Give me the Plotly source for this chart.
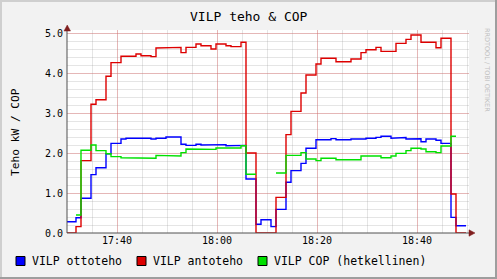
import datetime as dt
import plotly.graph_objects as go

# ---------------- data (one value per minute, step series) ----------------
start_time = "2024-01-01 17:29:48"
step_seconds = 60

ottoteho = [0.28, 0.28, 0.38, 0.87, 0.87, 1.46, 1.63, 1.63, 1.98, 2.24,
            2.24, 2.35, 2.37, 2.37, 2.37, 2.37, 2.37, 2.35, 2.37, 2.37,
            2.40, 2.40, 2.40, 2.22, 2.19, 2.19, 2.22, 2.20, 2.20, 2.20,
            2.21, 2.21, 2.18, 2.18, 2.18, 2.19, 1.35, 1.35, 0.22, 0.33,
            0.33, 0.16, 0.59, 0.59, 1.27, 1.56, 1.56, 1.74, 2.12, 2.12,
            2.33, 2.33, 2.33, 2.36, 2.33, 2.33, 2.33, 2.35, 2.35, 2.35,
            2.37, 2.37, 2.39, 2.42, 2.42, 2.37, 2.385, 2.385, 2.35, 2.355,
            2.355, 2.28, 2.35, 2.35, 2.32, 2.24, 2.24, 0.39, 0.18, 0.18]

antoteho = [0.0, 0.0, 0.16, 1.81, 1.81, 3.22, 3.33, 3.33, 3.92, 4.26,
            4.26, 4.42, 4.42, 4.42, 4.475, 4.43, 4.43, 4.41, 4.625, 4.625,
            4.625, 4.64, 4.64, 4.51, 4.64, 4.64, 4.725, 4.68, 4.68, 4.60,
            4.725, 4.725, 4.68, 4.66, 4.66, 4.77, 2.0, 2.0, 0.0, 0.0,
            0.0, 0.0, 0.89, 0.89, 2.46, 3.04, 3.04, 3.50, 3.95, 3.95,
            4.225, 4.37, 4.37, 4.37, 4.28, 4.28, 4.28, 4.35, 4.35, 4.51,
            4.58, 4.58, 4.64, 4.54, 4.54, 4.54, 4.74, 4.74, 4.84, 4.95,
            4.95, 4.77, 4.77, 4.77, 4.63, 4.87, 4.87, 0.975, 0.0, 0.0]

cop = [None, None, 0.45, 2.07, 2.07, 2.20, 2.06, 2.06, 1.98, 1.91,
       1.91, 1.88, 1.88, 1.88, 1.885, 1.87, 1.87, 1.87, 1.94, 1.94,
       1.925, 1.925, 1.925, 2.01, 2.10, 2.10, 2.10, 2.10, 2.10, 2.09,
       2.125, 2.125, 2.125, 2.125, 2.125, 2.18, 1.47, 1.47, None, None,
       None, None, 1.50, 1.50, 1.94, 1.94, 1.94, 2.01, 1.85, 1.85,
       1.81, 1.87, 1.87, 1.87, 1.83, 1.83, 1.83, 1.83, 1.83, 1.925,
       1.925, 1.925, 1.925, 1.88, 1.88, 1.925, 1.99, 1.99, 2.06, 2.12,
       2.12, 2.10, 2.03, 2.03, 2.01, 2.175, 2.175, 2.42, None, None]

series_names = ["VILP ottoteho", "VILP antoteho", "VILP COP (hetkellinen)"]
series_colors = ["#0000ff", "#dd0000", "#00e000"]
legend_colors = ["#0000ff", "#dd0000", "#00e000"]

x_tick_vals = ["2024-01-01 17:40", "2024-01-01 18:00", "2024-01-01 18:20", "2024-01-01 18:40"]
x_tick_text = ["17:40", "18:00", "18:20", "18:40"]
y_tick_vals = [0, 1, 2, 3, 4, 5]
y_tick_text = ["0.0", "1.0", "2.0", "3.0", "4.0", "5.0"]

title_text = "VILP teho & COP"
y_title = "Teho kW / COP"
watermark = "RRDTOOL / TOBI OETIKER"

# ---------------- helpers ----------------
t0 = dt.datetime.strptime(start_time, "%Y-%m-%d %H:%M:%S")
times = [t0 + dt.timedelta(seconds=step_seconds * i) for i in range(len(ottoteho) + 1)]


def step_xy(vals):
    xs, ys = [], []
    for i, v in enumerate(vals):
        if v is None:
            if xs and xs[-1] is not None:
                xs.append(None)
                ys.append(None)
            continue
        xs.extend([times[i], times[i + 1]])
        ys.extend([v, v])
    return xs, ys


W_PX, H_PX = 497, 279
L, R, T, B = 67, 469, 30, 233
PW, PH = R - L, B - T


def px(x):
    return (x - L) / PW


def py(y):
    return (B - y) / PH


FONT = "DejaVu Sans Mono"

fig = go.Figure()
for vals, name, col in zip([ottoteho, antoteho, cop], series_names, series_colors):
    xs, ys = step_xy(vals)
    fig.add_trace(go.Scatter(x=xs, y=ys, mode="lines", name=name,
                             line=dict(color=col, width=1.4), showlegend=False,
                             hoverinfo="skip"))

x_start = dt.datetime(2024, 1, 1, 17, 30, 0)
x_end = x_start + dt.timedelta(seconds=PW / 5 * 60)

grid_minor = "rgba(150,150,150,0.25)"
grid_major = "rgba(230,90,90,0.33)"

fig.update_xaxes(
    type="date", range=[x_start, x_end],
    tickmode="array", tickvals=x_tick_vals, ticktext=x_tick_text,
    showgrid=True, gridcolor=grid_major, gridwidth=1,
    minor=dict(tickmode="linear", tick0="2024-01-01 17:30", dtick=300000,
               showgrid=True, gridcolor=grid_minor, gridwidth=1),
    ticks="", showline=False, zeroline=False,
    tickfont=dict(family=FONT, size=10, color="#000000"),
    fixedrange=True,
)
fig.update_yaxes(
    range=[0, PH / 40], tickmode="array", tickvals=y_tick_vals, ticktext=y_tick_text,
    showgrid=True, gridcolor=grid_major, gridwidth=1,
    minor=dict(tickmode="linear", tick0=0, dtick=0.2,
               showgrid=True, gridcolor=grid_minor, gridwidth=1),
    ticks="", showline=False, zeroline=False,
    tickfont=dict(family=FONT, size=10, color="#000000"),
    ticklabelstandoff=3,
    fixedrange=True,
)

shapes = []
# axes
shapes.append(dict(type="line", xref="paper", yref="paper", x0=0, x1=px(471), y0=0, y1=0,
                   line=dict(color="#505050", width=1)))
shapes.append(dict(type="line", xref="paper", yref="paper", x0=0, x1=0, y0=0, y1=py(27),
                   line=dict(color="#505050", width=1)))
# arrows
shapes.append(dict(type="path", xref="paper", yref="paper",
                   path=f"M {px(64)} {py(31)} L {px(70.5)} {py(31)} L {px(67.25)} {py(25)} Z",
                   fillcolor="#801f1f", line=dict(color="#801f1f", width=0.5)))
shapes.append(dict(type="path", xref="paper", yref="paper",
                   path=f"M {px(469)} {py(229.8)} L {px(469)} {py(236.2)} L {px(475)} {py(233)} Z",
                   fillcolor="#801f1f", line=dict(color="#801f1f", width=0.5)))
# frame (3D border)
shapes.append(dict(type="rect", xref="paper", yref="paper", x0=px(0), x1=px(2), y0=py(279), y1=py(0),
                   fillcolor="#cfcfcf", line=dict(width=0)))
shapes.append(dict(type="rect", xref="paper", yref="paper", x0=px(0), x1=px(497), y0=py(2), y1=py(0),
                   fillcolor="#cfcfcf", line=dict(width=0)))
shapes.append(dict(type="rect", xref="paper", yref="paper", x0=px(495), x1=px(497), y0=py(279), y1=py(0),
                   fillcolor="#9e9e9e", line=dict(width=0)))
shapes.append(dict(type="rect", xref="paper", yref="paper", x0=px(0), x1=px(497), y0=py(279), y1=py(277),
                   fillcolor="#9e9e9e", line=dict(width=0)))

annotations = []
legend_box_x = [16, 137, 258]
for bx, name, col in zip(legend_box_x, series_names, legend_colors):
    shapes.append(dict(type="rect", xref="paper", yref="paper",
                       x0=px(bx), x1=px(bx + 9), y0=py(265.5), y1=py(256.5),
                       fillcolor=col, line=dict(color="#000000", width=1)))
    annotations.append(dict(text=name, xref="paper", yref="paper", x=px(bx + 14), y=py(261),
                            xanchor="left", yanchor="middle", showarrow=False,
                            font=dict(family=FONT, size=11.5, color="#000000")))

annotations.append(dict(text=title_text, xref="paper", yref="paper", x=px(249), y=py(16),
                        xanchor="center", yanchor="middle", showarrow=False,
                        font=dict(family=FONT, size=13, color="#000000")))
annotations.append(dict(text=y_title, xref="paper", yref="paper", x=px(15), y=py(132),
                        xanchor="center", yanchor="middle", showarrow=False, textangle=-90,
                        font=dict(family=FONT, size=11.2, color="#000000")))
annotations.append(dict(text=watermark, xref="paper", yref="paper", x=px(487), y=py(70),
                        xanchor="center", yanchor="middle", showarrow=False, textangle=90,
                        font=dict(family="DejaVu Sans", size=6.5, color="#c0c0c0")))

fig.update_layout(
    width=W_PX, height=H_PX,
    margin=dict(l=L, r=W_PX - R, t=T, b=H_PX - B, pad=0),
    paper_bgcolor="#f2f2f2", plot_bgcolor="#ffffff",
    shapes=shapes, annotations=annotations, showlegend=False,
)

fig.write_html("out.html", config={"displayModeBar": False})
